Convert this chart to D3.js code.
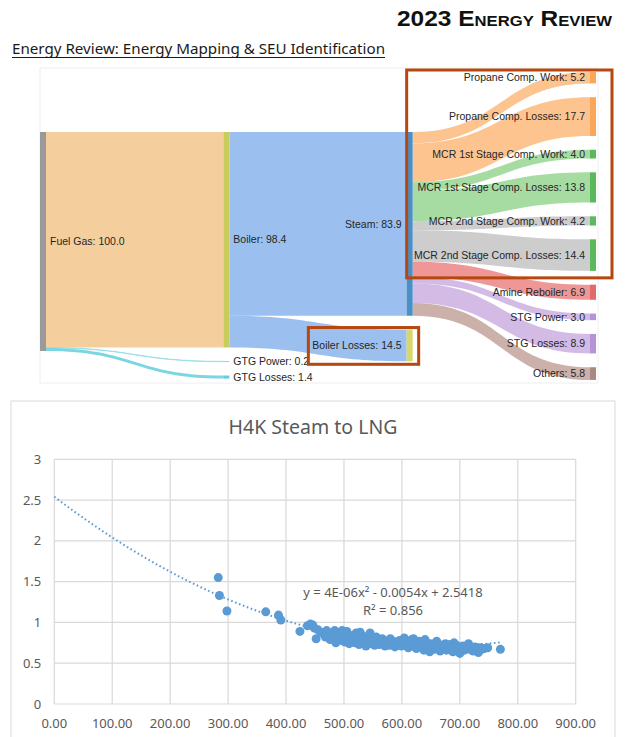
<!DOCTYPE html>
<html>
<head>
<meta charset="utf-8">
<script src="https://cdn.jsdelivr.net/npm/d3@7"></script>
<style>
  body { margin: 0; background: #fff; }
  svg { display: block; }
</style>
</head>
<body>
<svg width="626" height="737"></svg>
<script>
// ---- sankey data ----
const nodeNames = ["Fuel Gas", "Boiler", "GTG Power", "GTG Losses", "Steam", "Boiler Losses",
  "Propane Comp. Work", "Propane Comp. Losses", "MCR 1st Stage Comp. Work", "MCR 1st Stage Comp. Losses",
  "MCR 2nd Stage Comp. Work", "MCR 2nd Stage Comp. Losses", "Amine Reboiler", "STG Power", "STG Losses", "Others"];
const linkSource = [0, 0, 0, 1, 1, 4, 4, 4, 4, 4, 4, 4, 4, 4, 4];
const linkTarget = [1, 2, 3, 4, 5, 6, 7, 8, 9, 10, 11, 12, 13, 14, 15];
const linkValue = [98.4, 0.2, 1.4, 83.9, 14.5, 5.2, 17.7, 4.0, 13.8, 4.2, 14.4, 6.9, 3.0, 8.9, 5.8];

// ---- scatter data (H4K steam vs LNG) ----
const scatterX = [283, 285, 298, 365, 387, 391, 424, 437, 442, 446, 449, 452, 455, 460,
  465, 468, 470, 473, 476, 478, 481, 484, 486, 488, 490, 493, 495, 497, 500, 502, 504, 505, 507, 509,
  511, 514, 516, 519, 521, 524, 526, 528, 531, 533, 536, 538, 541, 543, 545, 546, 548, 551, 553, 556,
  558, 561, 564, 566, 569, 571, 574, 577, 579, 580, 582, 585, 588, 590, 593, 596, 599, 601, 604, 606,
  609, 611, 614, 617, 619, 620, 622, 625, 627, 630, 632, 635, 638, 640, 643, 645, 648, 650, 653, 656,
  658, 660, 661, 664, 666, 669, 672, 675, 677, 680, 683, 686, 688, 690, 691, 694, 697, 700, 702, 705,
  708, 711, 714, 715, 717, 720, 723, 726, 729, 732, 735, 738, 742, 748, 770];
const scatterY = [1.55, 1.33, 1.14, 1.13, 1.09, 1.03, 0.89, 0.96, 0.98, 0.97, 0.93, 0.80, 0.91, 0.88,
  0.86, 0.82, 0.90, 0.84, 0.79, 0.87, 0.83, 0.90, 0.75, 0.85, 0.81, 0.88, 0.78, 0.90, 0.83, 0.76, 0.86, 0.89, 0.80, 0.74,
  0.84, 0.78, 0.82, 0.75, 0.87, 0.80, 0.73, 0.88, 0.79, 0.83, 0.76, 0.71, 0.81, 0.77, 0.87, 0.84, 0.74, 0.79, 0.72, 0.82,
  0.76, 0.73, 0.78, 0.80, 0.74, 0.71, 0.77, 0.75, 0.72, 0.80, 0.78, 0.74, 0.70, 0.76, 0.73, 0.78, 0.71, 0.75, 0.81, 0.72,
  0.77, 0.69, 0.74, 0.79, 0.71, 0.80, 0.75, 0.68, 0.73, 0.77, 0.70, 0.74, 0.66, 0.79, 0.72, 0.69, 0.64, 0.74, 0.70, 0.67,
  0.73, 0.77, 0.75, 0.69, 0.65, 0.72, 0.68, 0.74, 0.66, 0.71, 0.73, 0.68, 0.64, 0.75, 0.70, 0.72, 0.67, 0.62, 0.69, 0.71,
  0.66, 0.70, 0.72, 0.74, 0.67, 0.69, 0.65, 0.70, 0.68, 0.63, 0.69, 0.67, 0.68, 0.69, 0.67];
const trendCoef = [4e-6, -0.0054, 2.5418]; // a x^2 + b x + c, as printed on chart
const rSquared = 0.856;
const xTicks = [0, 100, 200, 300, 400, 500, 600, 700, 800, 900];
const yTicks = [0, 0.5, 1, 1.5, 2, 2.5, 3];

// colours
const nodeColor = {
  "Fuel Gas": "#9a9a9a", "Boiler": "#c9cc5a", "GTG Power": "#5fcfdc", "GTG Losses": "#5fcfdc",
  "Steam": "#4b8fc7", "Boiler Losses": "#d6d86a",
  "Propane Comp. Work": "#fba75a", "Propane Comp. Losses": "#fba75a",
  "MCR 1st Stage Comp. Work": "#5cb85c", "MCR 1st Stage Comp. Losses": "#5cb85c",
  "MCR 2nd Stage Comp. Work": "#5cb85c", "MCR 2nd Stage Comp. Losses": "#5cb85c",
  "Amine Reboiler": "#e06b6b", "STG Power": "#b692d9", "STG Losses": "#b692d9", "Others": "#a88a82"
};
const linkColor = {
  "Boiler": "#f3cb95", "GTG Power": "#8adbe6", "GTG Losses": "#6fd3df",
  "Steam": "#92bbee", "Boiler Losses": "#92bbee",
  "Propane Comp. Work": "#fdbf86", "Propane Comp. Losses": "#fdbf86",
  "MCR 1st Stage Comp. Work": "#9ed99a", "MCR 1st Stage Comp. Losses": "#9ed99a",
  "MCR 2nd Stage Comp. Work": "#c9c9c9", "MCR 2nd Stage Comp. Losses": "#c9c9c9",
  "Amine Reboiler": "#ee8e8e", "STG Power": "#cfb5e4", "STG Losses": "#cfb5e4", "Others": "#c8aaa3"
};

const svg = d3.select("svg");

// ---- header ----
svg.append("text")
  .attr("x", 612).attr("y", 26)
  .attr("text-anchor", "end")
  .attr("textLength", 215).attr("lengthAdjust", "spacingAndGlyphs")
  .style("font-family", "'Liberation Sans', Arial, sans-serif")
  .style("font-weight", "900").style("font-size", "22px")
  .style("font-variant", "small-caps")
  .attr("fill", "#111")
  .text("2023 Energy Review");

svg.append("text")
  .attr("x", 12).attr("y", 54)
  .attr("textLength", 373).attr("lengthAdjust", "spacingAndGlyphs")
  .style("font-family", "'Noto Sans', sans-serif").style("font-size", "14px")
  .attr("fill", "#1a1a1a")
  .text("Energy Review: Energy Mapping & SEU Identification");
svg.append("line").attr("x1", 12).attr("x2", 385).attr("y1", 57.5).attr("y2", 57.5)
  .attr("stroke", "#1a1a1a").attr("stroke-width", 1);

// ---- sankey layout (hand rolled, d3-sankey not available) ----
const sk = svg.append("g");
sk.append("rect").attr("x", 40).attr("y", 68).attr("width", 558).attr("height", 315)
  .attr("fill", "#fff").attr("stroke", "#eeeeee");

const nodes = nodeNames.map((name, i) => ({ name, i, inV: 0, outV: 0, depth: 0, out: [], inn: [] }));
const links = linkValue.map((v, i) => ({ source: nodes[linkSource[i]], target: nodes[linkTarget[i]], value: v }));
links.forEach(l => {
  l.source.outV += l.value; l.target.inV += l.value;
  l.source.out.push(l); l.target.inn.push(l);
});
let changed = true;
while (changed) {
  changed = false;
  links.forEach(l => {
    if (l.target.depth < l.source.depth + 1) { l.target.depth = l.source.depth + 1; changed = true; }
  });
}
nodes.forEach(n => n.value = Math.max(n.inV, n.outV));

const colX = d3.scaleLinear().domain([0, 3]).range([40, 590]);
const vScale = d3.scaleLinear().domain([0, 100]).range([0, 219]);
const nodeW = 6, nodePad = 13.8, colTop = [132, 132, 132, 72];

d3.groups(nodes, n => n.depth).forEach(([d, col]) => {
  let y = colTop[d];
  col.forEach(n => {
    n.x0 = colX(d); n.x1 = n.x0 + nodeW;
    n.y0 = y; n.y1 = y + vScale(n.value);
    y = n.y1 + nodePad;
  });
});
nodes.forEach(n => {
  let y = n.y0;
  n.out.sort((a, b) => a.target.y0 - b.target.y0).forEach(l => { l.sy0 = y; y += vScale(l.value); l.sy1 = y; });
  y = n.y0;
  n.inn.sort((a, b) => a.source.y0 - b.source.y0).forEach(l => { l.ty0 = y; y += vScale(l.value); l.ty1 = y; });
});

function bandPath(l) {
  const x0 = l.source.x1, x1 = l.target.x0, xm = (x0 + x1) / 2;
  const p = d3.path();
  p.moveTo(x0, l.sy0);
  p.bezierCurveTo(xm, l.sy0, xm, l.ty0, x1, l.ty0);
  p.lineTo(x1, l.ty1);
  p.bezierCurveTo(xm, l.ty1, xm, l.sy1, x0, l.sy1);
  p.closePath();
  return p.toString();
}

sk.append("g").selectAll("path")
  .data(links)
  .join("path")
  .attr("d", bandPath)
  .attr("fill", l => linkColor[l.target.name])
  .attr("fill-opacity", 0.92)
  .attr("stroke", l => linkColor[l.target.name])
  .attr("stroke-width", l => l.value < 1 ? 0.6 : 0);

sk.append("g").selectAll("rect")
  .data(nodes)
  .join("rect")
  .attr("x", n => n.x0).attr("y", n => n.y0)
  .attr("width", nodeW).attr("height", n => Math.max(0.8, n.y1 - n.y0))
  .attr("fill", n => nodeColor[n.name]);

const labels = sk.append("g").selectAll("text")
  .data(nodes)
  .join("text")
  .attr("x", n => n.depth < 2 ? n.x1 + 4 : n.x0 - 5)
  .attr("y", n => (n.y0 + n.y1) / 2)
  .attr("dy", "0.35em")
  .attr("text-anchor", n => n.depth < 2 ? "start" : "end")
  .style("font-family", "'Liberation Sans', Arial, sans-serif")
  .style("font-size", "10.5px")
  .attr("fill", "#262626")
  .text(n => `${n.name}: ${n.value.toFixed(1)}`);

// highlight boxes
const right = nodes.filter(n => n.depth === 3);
const steam = nodes.find(n => n.name === "Steam");
sk.append("rect")
  .attr("x", steam.x0).attr("y", right[0].y0 - 2)
  .attr("width", right[0].x1 + 16 - steam.x0)
  .attr("height", right[5].y1 + 7 - (right[0].y0 - 2))
  .attr("fill", "none").attr("stroke", "#b5470f").attr("stroke-width", 3);

const bl = nodes.find(n => n.name === "Boiler Losses");
const blLabel = labels.filter(n => n === bl).node();
const blW = blLabel.getComputedTextLength();
sk.append("rect")
  .attr("x", bl.x0 - 5 - blW - 4).attr("y", bl.y0 - 2)
  .attr("width", blW + 15 + nodeW).attr("height", bl.y1 - bl.y0 + 5)
  .attr("fill", "none").attr("stroke", "#b5470f").attr("stroke-width", 3);

// ---- scatter chart ----
const sc = svg.append("g");
sc.append("rect").attr("x", 11).attr("y", 401).attr("width", 604).attr("height", 400)
  .attr("fill", "#fff").attr("stroke", "#d9d9d9");

const x = d3.scaleLinear().domain([0, 900]).range([54.3, 575.7]);
const y = d3.scaleLinear().domain([0, 3]).range([704, 459.3]);
const txtFont = "'Noto Sans', 'Open Sans', sans-serif";

sc.append("text")
  .attr("x", 313).attr("y", 434).attr("text-anchor", "middle")
  .style("font-family", txtFont).style("font-size", "19.5px")
  .attr("fill", "#595959")
  .text("H4K Steam to LNG");

sc.append("g").selectAll("line.v")
  .data(xTicks).join("line")
  .attr("x1", d => x(d)).attr("x2", d => x(d))
  .attr("y1", y(3)).attr("y2", y(0))
  .attr("stroke", "#d9d9d9").attr("stroke-width", 1.2);
sc.append("g").selectAll("line.h")
  .data(yTicks).join("line")
  .attr("x1", x(0)).attr("x2", x(900))
  .attr("y1", d => y(d)).attr("y2", d => y(d))
  .attr("stroke", "#d9d9d9").attr("stroke-width", 1.2);

sc.append("g").selectAll("text")
  .data(yTicks).join("text")
  .attr("x", x(0) - 13).attr("y", d => y(d)).attr("dy", "0.35em")
  .attr("text-anchor", "end")
  .style("font-family", txtFont).style("font-size", "13px")
  .attr("fill", "#595959")
  .text(d => d3.format("")(d));

sc.append("g").selectAll("text")
  .data(xTicks).join("text")
  .attr("x", d => x(d)).attr("y", y(0) + 24)
  .attr("text-anchor", "middle")
  .style("font-family", txtFont).style("font-size", "13px")
  .attr("fill", "#595959")
  .text(d => d3.format(".2f")(d));

const pts = scatterX.map((v, i) => [v, scatterY[i]]);
sc.append("g").selectAll("circle")
  .data(pts).join("circle")
  .attr("cx", d => x(d[0])).attr("cy", d => y(d[1]))
  .attr("r", 4.5)
  .attr("fill", "#5b9bd5");

const trend = d3.range(0, 771, 5).map(v => [v, trendCoef[0] * v * v + trendCoef[1] * v + trendCoef[2]]);
sc.append("path")
  .datum(trend)
  .attr("d", d3.line().x(d => x(d[0])).y(d => y(d[1])))
  .attr("fill", "none")
  .attr("stroke", "#5b9bd5").attr("stroke-width", 2)
  .attr("stroke-dasharray", "1.6,2.6");

const eq = sc.append("text")
  .attr("text-anchor", "middle")
  .style("font-family", txtFont).style("font-size", "13px")
  .attr("fill", "#595959");
eq.append("tspan").attr("x", 393).attr("y", 597)
  .text(`y = ${trendCoef[0].toExponential(0).replace("e-", "E-0")}x² - ${Math.abs(trendCoef[1])}x + ${trendCoef[2]}`);
eq.append("tspan").attr("x", 393).attr("y", 615)
  .text(`R² = ${rSquared}`);
</script>
</body>
</html>
